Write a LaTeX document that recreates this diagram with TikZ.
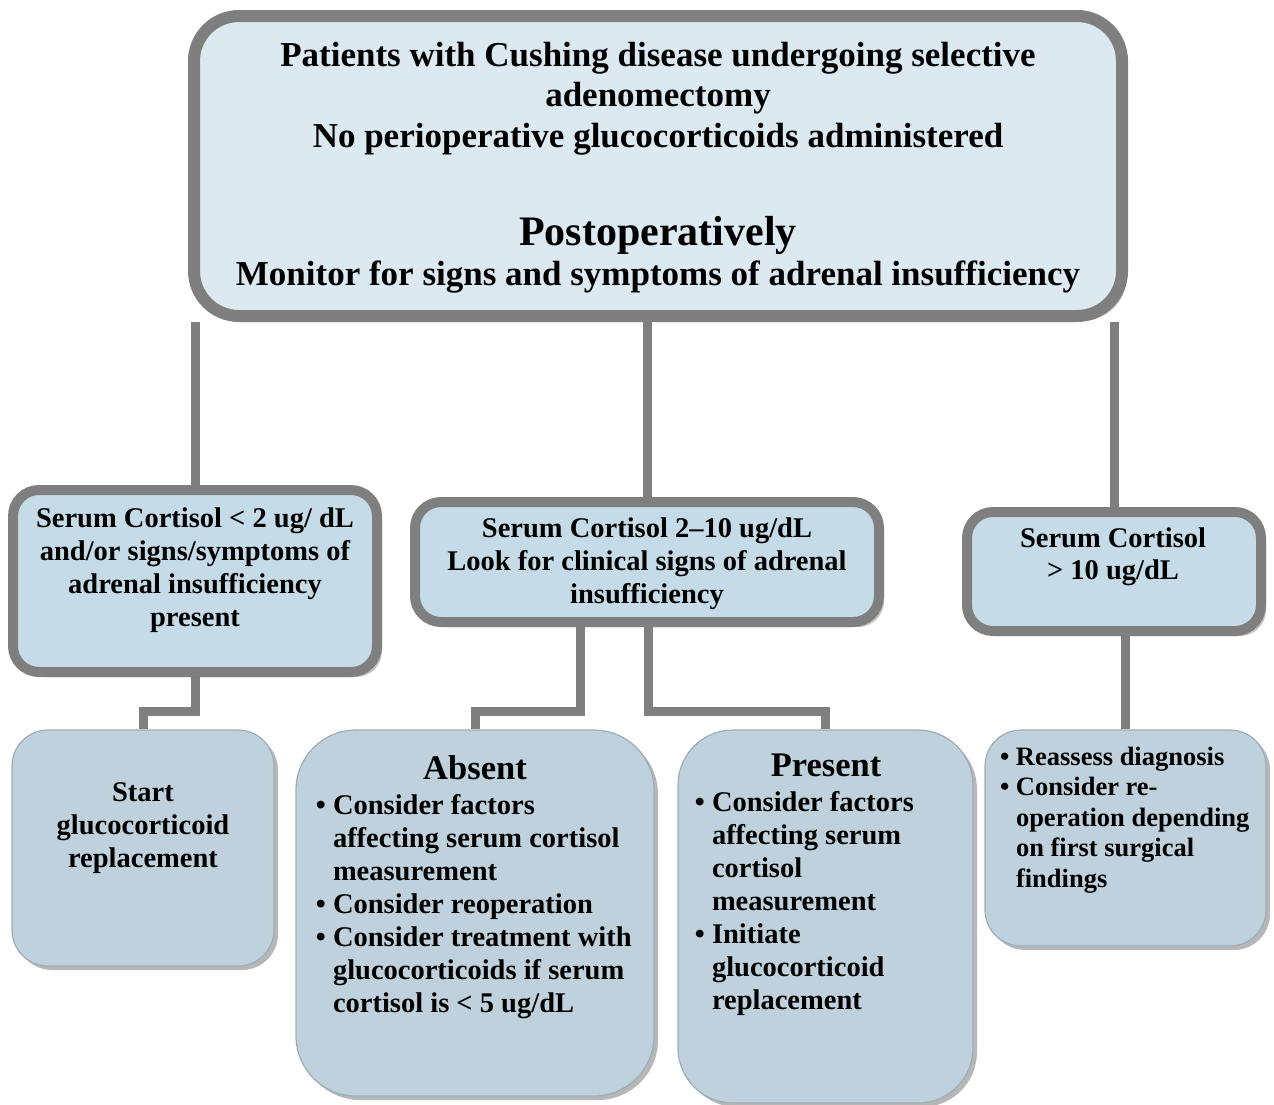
\documentclass[tikz,border=0pt]{standalone}
\usepackage{fontspec}
\setmainfont{Liberation Serif}
\usetikzlibrary{shadows,backgrounds}
\definecolor{edgegray}{HTML}{7F7F7F}
\definecolor{topfill}{HTML}{DCE9F1}
\definecolor{midfill}{HTML}{C5DCE8}
\definecolor{botfill}{HTML}{BFD1DC}
\definecolor{botedge}{HTML}{9DADB8}
\tikzset{
  bigbox/.style={draw=edgegray, line width=12pt, fill=topfill, rounded corners=45pt,
    drop shadow={shadow xshift=5pt, shadow yshift=-5pt, opacity=0.35, fill=black!70}},
  midbox/.style={draw=edgegray, line width=10pt, fill=midfill, rounded corners=26pt,
    drop shadow={shadow xshift=5pt, shadow yshift=-5pt, opacity=0.35, fill=black!70}},
  botbox/.style={draw=botedge, line width=1.2pt, fill=botfill,
    drop shadow={shadow xshift=4pt, shadow yshift=-4pt, opacity=0.4, fill=black!70}},
  conn/.style={draw=edgegray, line width=9pt},
  txt/.style={inner sep=0pt, outer sep=0pt, font=\bfseries},
}
\newcommand{\bul}{\llap{\textbullet\ }}
\begin{document}
\begin{tikzpicture}[x=1pt,y=-1pt]
\useasboundingbox (0,0) rectangle (1274,1104);
% boxes
\node[bigbox, minimum width=928pt, minimum height=300pt] (top) at (658,166) {};
\node[midbox, minimum width=364pt, minimum height=182pt] (low) at (195,581) {};
\node[midbox, minimum width=464pt, minimum height=120pt] (mid) at (647,562) {};
\node[midbox, minimum width=294pt, minimum height=119pt] (high) at (1114,571.5) {};
\node[botbox, rounded corners=36pt, minimum width=262pt, minimum height=236pt] (start) at (143,848) {};
\node[botbox, rounded corners=60pt, minimum width=358pt, minimum height=366pt] (absent) at (475,913) {};
\node[botbox, rounded corners=55pt, minimum width=295pt, minimum height=373pt] (present) at (825.5,916.5) {};
\node[botbox, rounded corners=36pt, minimum width=281pt, minimum height=216pt] (reassess) at (1125.5,838) {};
% connectors
\begin{pgfonlayer}{background}
\draw[conn] (top.south -| low.north) -- (low.north);
\draw[conn] (top.south -| mid.north) -- (mid.north);
\draw[conn] (top.south -| high.north) -- (high.north);
\draw[conn] (low.south) -- (195,711) -| (start.north);
\draw[conn] (mid.south -| 580,0) -- (580,711) -| (absent.north);
\draw[conn] (mid.south -| 648,0) -- (648,711) -| (present.north);
\draw[conn] (high.south -| reassess.north) -- (reassess.north);
\end{pgfonlayer}
% texts (anchor=base is the baseline of the last line)
\node[txt, align=center, anchor=base, font=\bfseries\fontsize{35}{40.5}\selectfont] (t1) at (658,147)
  {Patients with Cushing disease undergoing selective\\adenomectomy\\No perioperative glucocorticoids administered};
\node[txt, anchor=base, font=\bfseries\fontsize{42}{48}\selectfont] (t2) at (658,245) {Postoperatively};
\node[txt, anchor=base, font=\bfseries\fontsize{35}{40}\selectfont] (t3) at (658,285)
  {Monitor for signs and symptoms of adrenal insufficiency};
\node[txt, align=center, anchor=base, font=\bfseries\fontsize{28.5}{33}\selectfont] (tl) at (195,626)
  {Serum Cortisol < 2 ug/ dL\\and/or signs/symptoms of\\adrenal insufficiency\\present};
\node[txt, align=center, anchor=base, font=\bfseries\fontsize{28.5}{33}\selectfont] (tm) at (647,603)
  {Serum Cortisol 2–10 ug/dL\\Look for clinical signs of adrenal\\insufficiency};
\node[txt, align=center, anchor=base, font=\bfseries\fontsize{28.5}{32}\selectfont] (th) at (1113,579)
  {Serum Cortisol\\> 10 ug/dL};
\node[txt, align=center, anchor=base, font=\bfseries\fontsize{28.5}{33}\selectfont] (ts) at (143,867)
  {Start\\glucocorticoid\\replacement};
\node[txt, anchor=base, font=\bfseries\fontsize{34.5}{40}\selectfont] (ta) at (475,779) {Absent};
\node[txt, align=left, anchor=base west, font=\bfseries\fontsize{28.5}{33}\selectfont] (tab) at (333,1012)
  {\bul Consider factors\\affecting serum cortisol\\measurement\\\bul Consider reoperation\\\bul Consider treatment with\\glucocorticoids if serum\\cortisol is < 5 ug/dL};
\node[txt, anchor=base, font=\bfseries\fontsize{34.5}{40}\selectfont] (tp) at (826,776) {Present};
\node[txt, align=left, anchor=base west, font=\bfseries\fontsize{28.5}{33}\selectfont] (tpb) at (712,1009)
  {\bul Consider factors\\affecting serum\\cortisol\\measurement\\\bul Initiate\\glucocorticoid\\replacement};
\node[txt, align=left, anchor=base west, font=\bfseries\fontsize{26.5}{30.5}\selectfont] (trb) at (1016,887)
  {\bul Reassess diagnosis\\\bul Consider re-\\operation depending\\on first surgical\\findings};
\end{tikzpicture}
\end{document}
